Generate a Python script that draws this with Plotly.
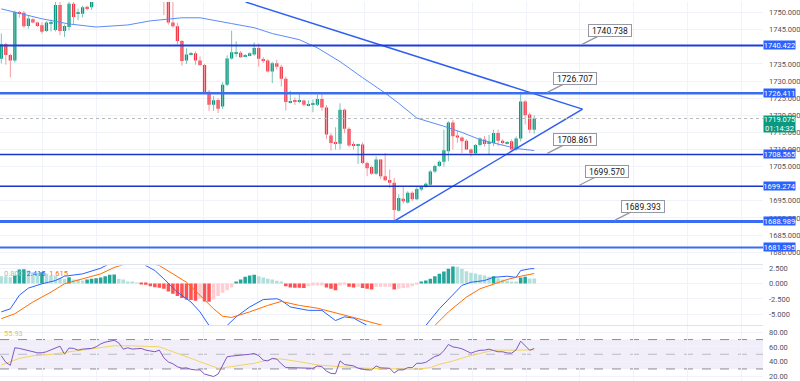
import plotly.graph_objects as go

# ---------------- data ----------------
idx = list(range(119))
opens = [1736.5,1740.8,1737.6,1736.0,1750.2,1750.0,1746.1,1748.1,1747.1,1746.3,
         1744.6,1746.9,1744.9,1752.2,1744.6,1745.8,1752.6,1749.7,1749.7,1751.7,
         1751.6,1755.5,1757.2,1756.4,1760.1,1758.9,1760.7,1762.4,1760.3,1758.0,
         1759.8,1757.4,1756.0,1758.5,1755.6,1756.9,1755.2,1754.3,1747.1,1746.0,
         1741.7,1736.0,1737.8,1738.1,1736.0,1734.7,1726.9,1723.1,1724.5,1722.6,
         1728.9,1736.6,1738.0,1738.3,1737.3,1737.6,1737.8,1739.7,1736.4,1736.0,
         1732.8,1735.2,1734.2,1730.7,1723.8,1724.2,1723.9,1724.3,1723.0,1723.1,
         1723.1,1724.8,1722.3,1714.1,1711.9,1711.7,1721.6,1716.1,1711.3,1711.1,
         1711.5,1706.1,1704.9,1702.9,1707.1,1702.2,1701.1,1700.3,1692.1,1695.6,
         1694.5,1697.4,1695.5,1698.3,1699.2,1699.7,1703.6,1705.2,1706.4,1709.5,
         1717.9,1714.1,1713.5,1712.6,1710.0,1708.9,1711.3,1712.9,1711.8,1711.9,
         1714.8,1712.6,1711.9,1712.4,1710.0,1713.2,1724.0,1720.2,1715.8]
highs = [1743.9,1741.2,1738.0,1750.6,1750.5,1750.5,1749.0,1748.4,1747.4,1747.2,
         1747.5,1748.0,1753.5,1753.5,1746.5,1754.0,1754.0,1751.2,1752.0,1752.0,
         1756.5,1758.0,1759.5,1760.8,1762.0,1761.5,1763.5,1764.0,1761.2,1760.6,
         1761.0,1758.3,1759.2,1759.0,1757.4,1757.5,1756.8,1755.0,1753.5,1747.0,
         1742.0,1739.6,1738.5,1738.7,1737.2,1735.0,1727.4,1725.6,1725.0,1729.7,
         1737.5,1744.7,1741.6,1738.8,1737.9,1738.4,1741.3,1741.0,1737.0,1736.4,
         1735.6,1736.2,1734.8,1731.3,1727.2,1725.2,1726.5,1724.6,1724.4,1724.6,
         1726.0,1726.5,1723.0,1714.8,1716.5,1723.5,1722.0,1716.5,1712.3,1711.7,
         1712.1,1706.5,1705.3,1708.0,1707.2,1709.0,1704.2,1701.7,1696.9,1699.0,
         1697.8,1697.8,1699.0,1699.4,1700.4,1704.0,1705.6,1706.8,1715.8,1718.3,
         1718.6,1715.5,1713.8,1713.0,1710.3,1711.6,1713.6,1714.0,1714.3,1715.8,
         1715.8,1713.0,1712.4,1713.0,1713.8,1726.9,1724.5,1720.8,1720.0]
lows = [1735.2,1734.8,1731.1,1735.4,1748.5,1745.5,1745.3,1746.9,1745.8,1743.8,
        1744.3,1744.5,1744.5,1743.4,1742.9,1744.8,1746.4,1747.8,1748.6,1750.6,
        1750.8,1754.5,1755.8,1755.9,1758.2,1757.6,1759.9,1759.5,1757.1,1757.2,
        1756.5,1755.2,1755.3,1755.0,1754.1,1754.0,1749.3,1746.5,1745.5,1740.7,
        1734.5,1735.0,1737.5,1734.8,1734.4,1726.5,1721.3,1721.3,1720.6,1721.9,
        1728.5,1736.3,1737.1,1736.8,1737.0,1737.2,1737.4,1734.2,1735.3,1732.5,
        1729.4,1733.4,1728.4,1721.4,1723.5,1723.0,1723.5,1722.6,1722.6,1720.9,
        1722.7,1721.3,1713.1,1709.7,1710.0,1710.0,1714.8,1710.8,1710.0,1705.8,
        1705.7,1702.2,1702.6,1702.6,1701.4,1700.8,1698.8,1689.1,1691.9,1694.2,
        1694.2,1694.9,1695.2,1697.8,1698.8,1699.4,1703.2,1704.9,1705.0,1706.6,
        1710.0,1712.0,1709.0,1709.8,1707.9,1708.6,1710.9,1710.9,1708.5,1711.0,
        1711.0,1711.4,1711.5,1709.6,1709.6,1712.4,1717.3,1714.8,1714.6]
closes = [1740.8,1737.6,1736.0,1750.2,1749.8,1746.0,1748.3,1747.1,1746.1,1744.4,
          1747.1,1747.3,1752.2,1744.6,1746.1,1752.6,1748.7,1749.9,1751.6,1751.2,
          1755.5,1757.2,1756.4,1760.1,1758.9,1760.7,1762.4,1760.3,1758.0,1759.8,
          1757.4,1756.0,1758.5,1755.6,1756.9,1755.2,1754.3,1747.1,1746.0,1741.7,
          1735.9,1737.8,1737.9,1736.0,1734.7,1726.7,1723.1,1724.4,1721.9,1728.9,
          1736.6,1738.4,1738.2,1737.0,1737.6,1738.1,1739.7,1736.5,1735.9,1732.8,
          1735.2,1734.2,1730.7,1723.9,1724.1,1723.9,1724.2,1723.1,1723.2,1723.3,
          1724.8,1722.3,1714.4,1711.9,1711.7,1721.6,1716.1,1711.2,1711.1,1711.3,
          1706.1,1704.5,1702.9,1707.1,1702.2,1701.0,1700.3,1692.3,1695.8,1694.9,
          1697.4,1695.5,1698.5,1699.1,1700.0,1703.6,1705.2,1706.4,1709.8,1717.9,
          1713.9,1713.5,1712.4,1710.0,1709.0,1711.3,1713.2,1711.6,1711.9,1714.8,
          1712.6,1711.9,1712.1,1710.0,1713.2,1724.0,1720.0,1715.8,1719.075]

ma_idx = [0,4,9,15,21,28,33,40,44,51,56,60,66,70,75,80,85,88,92,98,102,106,110,114,118]
ma_val = [1751.1,1749.9,1748.2,1746.7,1745.8,1746.4,1747.6,1748.5,1748.5,1746.8,1745.6,1743.9,
          1742.1,1739.7,1735.7,1731.0,1726.5,1723.5,1719.2,1716.8,1715.0,1712.9,1711.5,1710.3,1709.7]

levels = [1740.422, 1726.411, 1708.565, 1699.274, 1688.989, 1681.395]
level_labels = ["1740.422", "1726.411", "1708.565", "1699.274", "1688.989", "1681.395"]

tri_upper_idx = [54.1, 128.7]
tri_upper_val = [1753.1, 1721.8]
tri_lower_idx = [87, 128.7]
tri_lower_val = [1689.1, 1721.8]

callout_idx = [128.6, 120.9, 120.9, 128.0, 135.9]
callout_val = [1740.738, 1726.707, 1708.861, 1699.570, 1689.393]
callout_labels = ["1740.738", "1726.707", "1708.861", "1699.570", "1689.393"]

last_price = 1719.075
last_price_label = "1719.075"
countdown_label = "01:14:32"

hist = [1.18,1.18,1.0,1.3,2.26,2.3,2.1,1.83,1.72,1.83,
        1.56,1.29,1.18,0.86,0.75,1.02,0.65,0.65,0.48,0.65,
        0.75,0.86,0.97,1.18,1.4,1.45,0.75,0.65,0.32,0.21,
        0.1,-0.16,-0.22,-0.43,-0.6,-0.7,-0.86,-1.29,-1.67,-2.04,
        -2.37,-2.58,-2.69,-2.8,-2.47,-2.9,-2.95,-2.58,-2.04,-1.5,
        -1.08,-0.65,0.32,0.65,1.08,1.29,1.4,1.18,0.97,0.75,
        0.65,0.43,0.21,-0.43,-0.65,-0.7,-0.71,-0.72,-0.43,-0.32,
        -0.32,-0.32,-0.65,-0.86,-1.08,-0.32,-0.22,-0.54,-0.65,-0.54,
        -0.75,-0.86,-0.97,-0.54,-0.54,-0.53,-0.52,-0.97,-0.86,-0.75,
        -0.65,-0.43,-0.22,0.21,0.48,0.75,1.18,1.56,1.94,2.37,
        2.74,2.7,2.37,1.99,1.72,1.61,1.4,1.29,1.08,1.18,
        0.86,0.65,0.48,0.32,0.32,0.97,1.08,0.82,0.80]
macd_idx = [0,2,4,6,9,12,14,18,22,25,28,31,32,34,36,39,42,44,46,48,50,52,55,58,61,62,64,68,71,74,
            76,78,81,84,88,91,94,97,100,102,104,107,109,112,114,115,117,118]
macd_val = [-4.6,-4.1,-1.9,-0.75,-0.05,0.48,1.18,1.56,2.47,3.6,4.3,3.6,2.9,2.1,0.75,-1.4,-3.0,-4.6,-6.8,-7.6,
            -6.8,-5.4,-3.8,-2.6,-2.47,-2.74,-3.8,-4.35,-4.35,-6.0,-5.4,-5.6,-6.8,-7.8,-8.8,-8.2,-6.8,-4.1,-1.9,-0.3,
            0.2,0.48,1.0,1.18,1.0,2.1,2.37,2.415]
signal_idx = [0,3,7,11,14,18,22,25,29,32,35,38,41,44,47,49,51,55,59,62,66,70,75,79,85,90,93,96,99,103,
              106,109,112,115,118]
signal_val = [-5.7,-4.9,-3.0,-1.4,-0.05,0.75,1.56,2.6,3.5,3.4,2.9,1.56,0.2,-1.9,-4.1,-5.3,-5.5,-4.6,-3.55,-2.9,
              -3.55,-4.0,-4.9,-5.7,-6.9,-7.5,-7.4,-6.8,-4.6,-2.2,-0.86,-0.05,0.65,1.18,1.615]
macd_legend = ["0.800", "2.415", "1.615"]

rsi = [48,39,35,58.8,58,56.5,55.2,54.3,52,52,
       53.4,56,59,61,50,58.5,58,55.6,57,57.5,
       58,60.1,64,66.5,68,69,65.5,57,58.8,57,
       57.5,57.9,55.6,54.5,53.4,55.6,45,39.5,37,33,
       31,31.5,29.5,28.7,28.7,23,21,19.7,23,35,
       46.6,47.5,48,48,48.9,50,51,48,42,41,
       44.4,43.5,37,31.8,31.8,31.8,31.8,31.5,31,30.9,
       34,33,27,24,23.5,41,36,34.8,34.2,31,
       29.5,28.7,28.7,34,31.5,30.9,30.9,24.5,28.7,28.7,
       31.8,31.8,37.7,37.7,39,43,47,48.8,55,63.3,
       60,59,57.5,54.5,51.5,53.8,55.4,55.6,57,55,
       53.4,53.4,51.8,51.5,56,67.8,62,55.4,57.9]
rsima_idx = [0,2,4,7,11,14,18,22,25,29,35,38,42,45,48,51,56,60,62,66,70,75,81,88,92,95,97,100,103,106,109,112,118]
rsima_val = [35.4,39.9,44.4,48,49.8,52.5,55.6,58.8,61.5,61.5,60.1,53.4,44.4,37.7,30.9,33.2,37.7,43.5,43.5,39.9,
             35.4,33.2,30.9,30,29.6,31.8,36.3,40.8,46.6,51.1,55.6,55.6,55.9]
rsi_levels = [70, 50, 30]
rsi_legend = "55.93"

# price ticks (1740 and 1700 sit fully under the level labels, as in the reference)
price_ticks = [1680, 1685, 1690, 1695, 1705, 1710, 1715, 1720, 1725, 1730, 1735, 1745, 1750]
macd_ticks = [2.5, 0.0, -2.5, -5.0]
rsi_ticks = [80, 60, 40, 20]

# ---------------- styles ----------------
UP, DN = "#089981", "#f23645"
UP_W, DN_W = "#7cc3b7", "#f59aa1"
FONT = "Roboto"
GRID = "#f0f3fa"

fig = go.Figure()

# wicks
for up in (True, False):
    xs, ys = [], []
    for i, o, h, l, c in zip(idx, opens, highs, lows, closes):
        if (c >= o) == up:
            xs += [i, i, None]
            ys += [l, h, None]
    fig.add_trace(go.Scatter(x=xs, y=ys, mode="lines", line=dict(color=UP_W if up else DN_W, width=1),
                             xaxis="x", yaxis="y", hoverinfo="skip", showlegend=False))

# bodies
base = [min(o, c) for o, c in zip(opens, closes)]
height = [max(abs(c - o), 0.3) for o, c in zip(opens, closes)]
bcol = [UP if c >= o else DN for o, c in zip(opens, closes)]
fig.add_trace(go.Bar(x=idx, y=height, base=base, marker=dict(color=bcol, line=dict(width=0)),
                     width=0.72, xaxis="x", yaxis="y", showlegend=False, hoverinfo="skip"))

# moving average
fig.add_trace(go.Scatter(x=ma_idx, y=ma_val, mode="lines", line=dict(color="#5b8cf5", width=1),
                         xaxis="x", yaxis="y", showlegend=False, hoverinfo="skip"))
# triangle
for tx, ty in ((tri_upper_idx, tri_upper_val), (tri_lower_idx, tri_lower_val)):
    fig.add_trace(go.Scatter(x=tx, y=ty, mode="lines", line=dict(color="#2f5ff0", width=1.5),
                             xaxis="x", yaxis="y", showlegend=False, hoverinfo="skip"))

# MACD histogram
hcol = []
for k, h in enumerate(hist):
    prev = hist[k - 1] if k > 0 else h
    if h >= 0:
        hcol.append("#26a69a" if h > prev else "#b2dfdb")
    else:
        hcol.append("#ff5252" if h < prev else "#ffcdd2")
fig.add_trace(go.Bar(x=idx, y=hist, marker=dict(color=hcol, line=dict(width=0)), width=0.78,
                     xaxis="x2", yaxis="y2", showlegend=False, hoverinfo="skip"))
fig.add_trace(go.Scatter(x=macd_idx, y=macd_val, mode="lines", line=dict(color="#2962ff", width=1),
                         xaxis="x2", yaxis="y2", showlegend=False, hoverinfo="skip"))
fig.add_trace(go.Scatter(x=signal_idx, y=signal_val, mode="lines", line=dict(color="#ff6d00", width=1),
                         xaxis="x2", yaxis="y2", showlegend=False, hoverinfo="skip"))

# RSI
fig.add_trace(go.Scatter(x=rsima_idx, y=rsima_val, mode="lines", line=dict(color="#f2d45c", width=1),
                         xaxis="x3", yaxis="y3", showlegend=False, hoverinfo="skip"))
fig.add_trace(go.Scatter(x=idx, y=rsi, mode="lines", line=dict(color="#7e57c2", width=1),
                         xaxis="x3", yaxis="y3", showlegend=False, hoverinfo="skip"))

shapes = []
# RSI band
shapes.append(dict(type="rect", xref="paper", x0=0, x1=1, yref="y3", y0=rsi_levels[2], y1=rsi_levels[0],
                   fillcolor="rgba(126,87,194,0.10)", line=dict(width=0), layer="below"))
for lv, colr in zip(rsi_levels, ["#8a8d96", "#b8bac2", "#8a8d96"]):
    shapes.append(dict(type="line", xref="paper", x0=0, x1=1, yref="y3", y0=lv, y1=lv,
                       line=dict(color=colr, width=1, dash="dash"), layer="below"))
# price levels
lv_colors = ["#1c3fd9", "#3a6cf4", "#1a33c9", "#1a33c9", "#3a6cf4", "#3a6cf4"]
lv_widths = [2, 2.5, 1.6, 1.6, 3, 2]
for lv, colr, wd in zip(levels, lv_colors, lv_widths):
    shapes.append(dict(type="line", xref="paper", x0=0, x1=1, yref="y", y0=lv, y1=lv,
                       line=dict(color=colr, width=wd)))
# last price dotted line
shapes.append(dict(type="line", xref="paper", x0=0, x1=1, yref="y", y0=last_price, y1=last_price,
                   line=dict(color="#b8bac2", width=1, dash="dot")))

annotations = []
for lv, txt in zip(levels, level_labels):
    annotations.append(dict(xref="paper", yref="y", x=1.0, y=lv, xanchor="left", yanchor="middle",
                            text=txt, showarrow=False, bgcolor="#2962ff", width=31, height=8,
                            borderpad=0, font=dict(family=FONT, size=7.5, color="white")))
annotations.append(dict(xref="paper", yref="y", x=1.0, y=last_price + 1.1, xanchor="left", yanchor="top",
                        text=last_price_label + "<br>" + countdown_label, showarrow=False,
                        bgcolor="#089981", width=31, height=16, borderpad=0,
                        font=dict(family=FONT, size=7.5, color="white")))
for cx, cy, txt in zip(callout_idx, callout_val, callout_labels):
    annotations.append(dict(xref="x", yref="y", x=cx, y=cy, text=txt, showarrow=True, arrowhead=0,
                            arrowwidth=1.3, arrowcolor="#9598a1", ax=27.5, ay=-14,
                            bgcolor="white", bordercolor="#9598a1", borderwidth=1, borderpad=2,
                            width=38, height=7, font=dict(family=FONT, size=8.5, color="#131722")))
annotations.append(dict(xref="paper", yref="y2 domain", x=0.002, y=0.87, xanchor="left", yanchor="middle",
                        showarrow=False, font=dict(family=FONT, size=7.5),
                        text=('<span style="color:#80cbc4">%s</span>  <span style="color:#2962ff">%s</span>  '
                              '<span style="color:#ff6d00">%s</span>') % tuple(macd_legend)))
annotations.append(dict(xref="paper", yref="y3 domain", x=0.002, y=0.87, xanchor="left", yanchor="middle",
                        showarrow=False, font=dict(family=FONT, size=7.5, color="#e8c440"),
                        text=rsi_legend))

xcommon = dict(range=[-0.287, 168.66], showticklabels=False, showgrid=True, gridcolor=GRID,
               tick0=9.1, dtick=11.9, zeroline=False, ticks="", showline=True, linecolor="#e0e3eb",
               linewidth=1)
ycommon = dict(side="right", showgrid=True, gridcolor=GRID, zeroline=False, ticks="",
               ticklabelstandoff=5, tickfont=dict(family=FONT, size=7.5, color="#50535e"))

fig.update_layout(
    width=800, height=381, margin=dict(l=0, r=34, t=0, b=0),
    paper_bgcolor="white", plot_bgcolor="white", barmode="overlay", showlegend=False,
    xaxis=dict(**xcommon, anchor="y"),
    xaxis2=dict(**xcommon, anchor="y2", matches="x"),
    xaxis3=dict(**xcommon, anchor="y3", matches="x"),
    yaxis=dict(**ycommon, domain=[0.3097, 1.0], range=[1676.66, 1753.11],
               tickvals=price_ticks, ticktext=["%.3f" % v for v in price_ticks]),
    yaxis2=dict(**ycommon, domain=[0.147, 0.3045], range=[-6.77, 2.9],
                tickvals=macd_ticks, ticktext=["%.3f" % v for v in macd_ticks]),
    yaxis3=dict(**ycommon, domain=[0.0, 0.1444], range=[13.6, 88.1],
                tickvals=rsi_ticks, ticktext=["%.2f" % v for v in rsi_ticks]),
    shapes=shapes, annotations=annotations, hovermode=False,
)

fig.write_html("out.html", config={"displayModeBar": False},
               post_script="document.body.style.margin='0';document.body.style.overflow='hidden';")
